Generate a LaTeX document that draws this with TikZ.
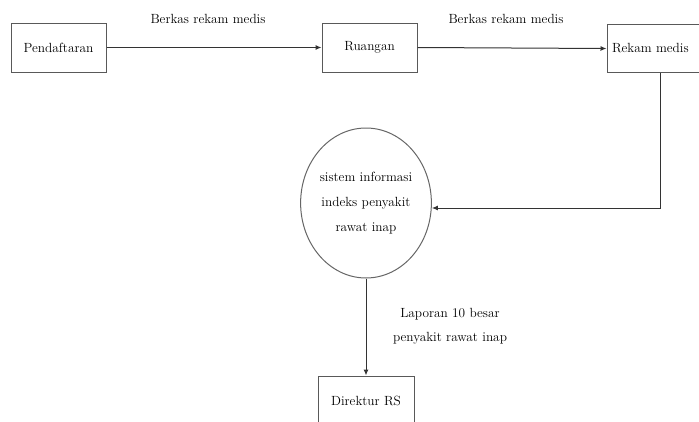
\documentclass[tikz,border=0pt]{standalone}
\usepackage{fontspec}
\usetikzlibrary{arrows.meta,shapes.geometric}
\begin{document}
\begin{tikzpicture}[x=1pt,y=-1pt,
  font=\fontsize{13.3}{25}\selectfont,
  entity/.style={draw=black!65, line width=1pt, rectangle, inner sep=0pt, text=black},
  process/.style={draw=black!60, line width=1pt, ellipse, inner sep=0pt,
    minimum width=113pt, minimum height=150pt, align=center, text=black},
  flow/.style={draw=black!80, line width=1pt, -{Latex[length=6pt,width=5pt]}},
  flowlabel/.style={text=black, align=center}]
\useasboundingbox (0,0) rectangle (699,421);
\clip (0,0) rectangle (699,421);

% external entities and process
\node[entity, minimum width=95pt, minimum height=49pt] (pend) at (58.5,47.5) {Pendaftaran};
\node[entity, minimum width=95pt, minimum height=49pt] (ruang) at (369.5,47.5) {Ruangan};
\node[entity, minimum width=98pt, minimum height=48pt, text width=98pt, align=left] (rekam) at (656,48.5) {\hspace*{5pt}Rekam medis};
\node[process] (sis) at (366,203) {sistem informasi\\indeks penyakit\\rawat inap};
\node[entity, minimum width=96pt, minimum height=50pt] (dir) at (366,401) {Direktur RS};

% data flows
\draw[flow] (pend.east) -- node[flowlabel, midway, yshift=29pt, xshift=-6pt] {Berkas rekam medis} (ruang.west);
\draw[flow] (ruang.east) -- node[flowlabel, midway, yshift=29pt, xshift=-6pt] {Berkas rekam medis} (rekam.west);
\coordinate (bend) at (660,208);
\draw[flow] (rekam.south -| bend) -- (bend) -- (sis.east |- bend);
\draw[flow] (sis.south) -- (dir.north);
\node[flowlabel, font=\fontsize{13.3}{24}\selectfont] (lap) at (450,326) {Laporan 10 besar\\penyakit rawat inap};
\end{tikzpicture}
\end{document}
